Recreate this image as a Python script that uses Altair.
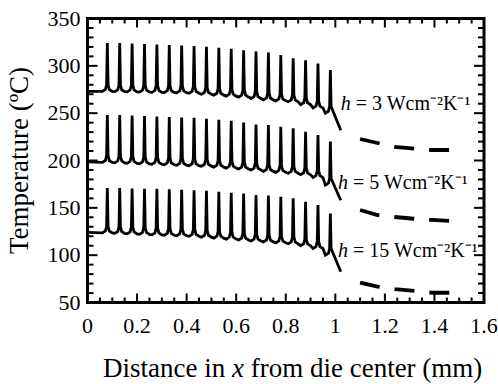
import altair as alt
import pandas as pd

FONT = "Liberation Serif"

# ---- data ----
spike_x = [0.08, 0.13, 0.18, 0.23, 0.28, 0.33, 0.38, 0.43, 0.48, 0.53,
           0.58, 0.63, 0.68, 0.73, 0.78, 0.83, 0.88, 0.93, 0.98]

top_peak = [324, 324, 323.5, 323, 322.5, 322, 321.5, 321, 320, 319,
            318, 316.5, 315, 314, 311.5, 308, 306, 302.5, 295.5]
top_base = [273, 272.7, 272.5, 272.3, 272, 271.8, 271.6, 271, 270, 269,
            268, 267, 265.5, 264, 263, 262, 259, 255.5, 250]
top_start = [0.0, 273.0]
top_end = [1.022, 232]

mid_peak = [248, 248, 247.5, 247, 246.5, 246, 245.5, 245, 244, 243,
            242, 240, 238, 237.5, 235.7, 234, 230.4, 226.9, 220]
mid_base = [198, 197.5, 197, 196.5, 196, 195.5, 195, 194.5, 194, 193,
            192, 191, 190, 188.5, 187.5, 186.5, 185, 182, 174]
mid_start = [0.0, 198.5]
mid_end = [1.022, 158]

bot_peak = [171, 171, 170.5, 170, 170, 169.5, 169, 168.5, 168, 167,
            166, 165, 163.6, 163, 161.8, 160, 156.5, 153, 144]
bot_base = [123.5, 123, 122.5, 122, 121.5, 121, 120.5, 120, 119, 118,
            117, 116, 115, 114, 113, 112, 110, 107, 100]
bot_start = [0.0, 124.0]
bot_end = [1.022, 82.5]

# shape of the base of each spike (offset in mm, rise in degC; None = peak)
cusp_dx = [-0.02, -0.008, -0.003, 0.0, 0.003, 0.008, 0.02]
cusp_rise = [0, 2, 7, None, 7, 2, 0]

dash_x = [1.10, 1.17, 1.24, 1.33, 1.39, 1.47]
top_dash = [222.7, 218.5, 214.3, 212.2, 211.1, 211.1]
mid_dash = [147.7, 142.4, 140.3, 138.2, 137.2, 136.1]
bot_dash = [70.9, 66.7, 64.2, 62.1, 60.3, 60.3]

label_x = [1.022, 1.011, 1.011]
label_T = [253.3, 169.9, 98.4]
label_h = ["3", "5", "15"]

x_major = [0, 0.2, 0.4, 0.6, 0.8, 1.0, 1.2, 1.4, 1.6]
x_tick_labels = ["0", "0.2", "0.4", "0.6", "0.8", "1", "1.2", "1.4", "1.6"]
y_major = [50, 100, 150, 200, 250, 300, 350]
y_tick_labels = ["50", "100", "150", "200", "250", "300", "350"]
x_minor = [round(i * 0.05, 2) for i in range(33) if i % 4]
y_minor = [v for v in range(50, 351, 10) if v % 50]

y_title = ["Temperature (ºC)"]
title_seg1 = ["Distance in"]
title_seg2 = ["x"]
title_seg3 = ["from die center (mm)"]

W, H = 396.5, 284

# ---- build tables ----
rows = []
for name, start, base, peak, end in [
    ("h3", top_start, top_base, top_peak, top_end),
    ("h5", mid_start, mid_base, mid_peak, mid_end),
    ("h15", bot_start, bot_base, bot_peak, bot_end),
]:
    k = 0
    rows.append(dict(curve=name, x=start[0], T=start[1], o=k)); k += 1
    n = len(spike_x)
    for i, (sx, b, p) in enumerate(zip(spike_x, base, peak)):
        for dx, r in zip(cusp_dx, cusp_rise):
            if i == n - 1 and dx > 0.004:
                continue
            rows.append(dict(curve=name, x=sx + dx, T=(p if r is None else b + r), o=k)); k += 1
    rows.append(dict(curve=name, x=end[0], T=end[1], o=k))
solid = pd.DataFrame(rows)

drows = []
for name, vals in [("h3", top_dash), ("h5", mid_dash), ("h15", bot_dash)]:
    for i, (x, T) in enumerate(zip(dash_x, vals)):
        drows.append(dict(curve=name, x=x, T=T, o=i))
dashed = pd.DataFrame(drows)

labels = pd.DataFrame({
    "x": label_x, "T": label_T,
    "h": ["h"] * 3,
    "rest": ["= " + v + " Wcm\u207b\u00b2K\u207b\u00b9" for v in label_h],
})

XS = alt.Scale(domain=[0, 1.6], nice=False, zero=False)
YS = alt.Scale(domain=[50, 350], nice=False, zero=False)


def X(field):
    return alt.X(field, scale=XS, axis=None)


def Y(field):
    return alt.Y(field, scale=YS, axis=None)


solid_layer = alt.Chart(solid).mark_line(color="black", strokeWidth=2.8).encode(
    x=X("x:Q"), y=Y("T:Q"), detail="curve:N", order="o:Q",
)

dashed_layer = alt.Chart(dashed).mark_line(
    color="black", strokeWidth=3.8, strokeDash=[20, 15], strokeCap="butt"
).encode(
    x=X("x:Q"), y=Y("T:Q"), detail="curve:N", order="o:Q",
)

h_layer = alt.Chart(labels).mark_text(
    font=FONT, fontSize=20, fontStyle="italic", align="left",
    baseline="alphabetic", color="black"
).encode(x=X("x:Q"), y=Y("T:Q"), text="h:N")

rest_layer = alt.Chart(labels).mark_text(
    font=FONT, fontSize=20, align="left", baseline="alphabetic",
    color="black", dx=15
).encode(x=X("x:Q"), y=Y("T:Q"), text="rest:N")

# tick marks (inward, on all four sides)
tick_rows = []
for v in x_major:
    tick_rows.append(dict(side="bottom", v=v, a=H, b=H - 9))
    tick_rows.append(dict(side="top", v=v, a=0, b=9))
for v in x_minor:
    tick_rows.append(dict(side="bottom", v=v, a=H, b=H - 5))
    tick_rows.append(dict(side="top", v=v, a=0, b=5))
xticks = pd.DataFrame(tick_rows)
ytick_rows = []
for v in y_major:
    ytick_rows.append(dict(side="left", v=v, a=0, b=10))
    ytick_rows.append(dict(side="right", v=v, a=W, b=W - 10))
for v in y_minor:
    ytick_rows.append(dict(side="left", v=v, a=0, b=6))
    ytick_rows.append(dict(side="right", v=v, a=W, b=W - 6))
yticks = pd.DataFrame(ytick_rows)

PX_X = alt.Scale(domain=[0, W], range=[0, W])
PX_Y = alt.Scale(domain=[0, H], range=[0, H])

xtick_layer = alt.Chart(xticks).mark_rule(color="black", strokeWidth=2).encode(
    x=X("v:Q"),
    y=alt.Y("a:Q", scale=PX_Y, axis=None),
    y2="b:Q",
)
ytick_layer = alt.Chart(yticks).mark_rule(color="black", strokeWidth=2).encode(
    y=Y("v:Q"),
    x=alt.X("a:Q", scale=PX_X, axis=None),
    x2="b:Q",
)

# frame
frame_df = pd.DataFrame({"k": [0]})
frame = [
    alt.Chart(frame_df).mark_rule(color="black", strokeWidth=3).encode(
        x=alt.value(0), x2=alt.value(W), y=alt.value(0)),
    alt.Chart(frame_df).mark_rule(color="black", strokeWidth=3).encode(
        x=alt.value(0), x2=alt.value(W), y=alt.value(H)),
    alt.Chart(frame_df).mark_rule(color="black", strokeWidth=3).encode(
        y=alt.value(-1.5), y2=alt.value(H + 1.5), x=alt.value(0)),
    alt.Chart(frame_df).mark_rule(color="black", strokeWidth=3).encode(
        y=alt.value(-1.5), y2=alt.value(H + 1.5), x=alt.value(W)),
]

# tick labels
xlab = alt.Chart(pd.DataFrame({"v": x_major, "t": x_tick_labels})).mark_text(
    font=FONT, fontSize=22, align="center", baseline="alphabetic", color="black"
).encode(x=X("v:Q"), y=alt.value(H + 30.5), text="t:N")
ylab = alt.Chart(pd.DataFrame({"v": y_major, "t": y_tick_labels})).mark_text(
    font=FONT, fontSize=22, align="right", baseline="middle", color="black"
).encode(y=Y("v:Q"), x=alt.value(-7), text="t:N")

ytitle = alt.Chart(pd.DataFrame({"t": y_title})).mark_text(
    font=FONT, fontSize=27, angle=270, align="center", baseline="alphabetic",
    color="black"
).encode(x=alt.value(-59.5), y=alt.value(142), text="t:N")

t1 = alt.Chart(pd.DataFrame({"t": title_seg1})).mark_text(
    font=FONT, fontSize=27, align="right", baseline="alphabetic", color="black"
).encode(x=alt.value(137.7), y=alt.value(358.5), text="t:N")
t2 = alt.Chart(pd.DataFrame({"t": title_seg2})).mark_text(
    font=FONT, fontSize=27, fontStyle="italic", align="left",
    baseline="alphabetic", color="black"
).encode(x=alt.value(144.5), y=alt.value(358.5), text="t:N")
t3 = alt.Chart(pd.DataFrame({"t": title_seg3})).mark_text(
    font=FONT, fontSize=27, align="left", baseline="alphabetic", color="black"
).encode(x=alt.value(163.2), y=alt.value(358.5), text="t:N")

chart = alt.layer(
    solid_layer, dashed_layer, h_layer, rest_layer,
    alt.layer(xtick_layer, ytick_layer).resolve_scale(x="independent", y="independent"),
    *frame, xlab, ylab, ytitle, t1, t2, t3
).properties(
    width=W, height=H,
    autosize=alt.AutoSizeParams(type="none"),
    padding={"left": 87.5, "top": 18.5, "right": 14, "bottom": 81.5},
    background="white",
).configure_view(
    strokeWidth=0
)

chart.save("out.html", embed_options={"renderer": "svg", "actions": False})
